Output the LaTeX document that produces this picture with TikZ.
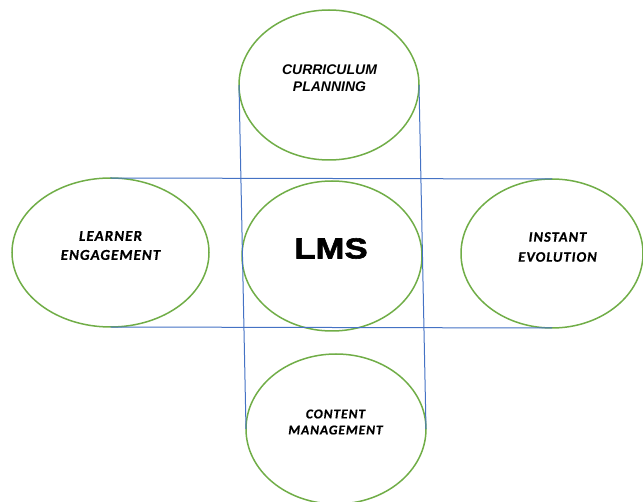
\documentclass[tikz,border=0pt]{standalone}
\usepackage{fontspec}
\setmainfont{Liberation Sans}
\newfontfamily\carlito{Carlito}[LetterSpace=7, BoldItalicFeatures={FakeBold=0.6}]
\newfontfamily\lmsfont{Liberation Sans}[FakeStretch=1.2, BoldFeatures={FakeBold=2}]
\usetikzlibrary{shapes.geometric}
\definecolor{ellgreen}{HTML}{70AD47}
\definecolor{lineblue}{HTML}{4472C4}
\begin{document}
\begin{tikzpicture}[x=1pt,y=-1pt,
  bubble/.style={ellipse, draw=ellgreen, line width=1.5pt, inner sep=0pt, outer sep=0pt},
  link/.style={draw=lineblue, line width=1pt},
  lbl/.style={inner sep=0pt, align=center, text=black}]
\useasboundingbox (0,0) rectangle (643,502);
% ellipses
\node[bubble, minimum width=180pt, minimum height=150pt] (top) at (329,85) {};
\node[bubble, minimum width=197pt, minimum height=149pt] (left) at (110.5,252.5) {};
\node[bubble, minimum width=182pt, minimum height=149pt] (right) at (552,253.5) {};
\node[bubble, minimum width=180pt, minimum height=150pt] (mid) at (332,256) {};
\node[bubble, minimum width=180pt, minimum height=150pt] (bottom) at (336,429) {};
% connectors
\draw[link] (top.west) -- (bottom.west);
\draw[link] (top.east) -- (bottom.east);
\draw[link] (left.north) -- (right.north);
\draw[link] (left.south) -- (right.south);
% texts
\node[lbl, font=\fontsize{14}{17}\selectfont\bfseries\itshape] (ttop) at (329.5,78.5) {CURRICULUM\\PLANNING};
\node[lbl, font=\carlito\fontsize{15}{19}\selectfont\bfseries\itshape] (tleft) at (110.5,245.5) {LEARNER\\ENGAGEMENT};
\node[lbl, font=\carlito\fontsize{14.5}{20}\selectfont\bfseries\itshape] (tright) at (557.5,247) {INSTANT\\EVOLUTION};
\node[lbl, font=\carlito\fontsize{13.5}{16}\selectfont\bfseries\itshape] (tbottom) at (335.5,422) {CONTENT\\MANAGEMENT};
\node[lbl, font=\lmsfont\fontsize{29}{34}\selectfont\bfseries] (tmid) at (331,248.5) {LMS};
\end{tikzpicture}
\end{document}
